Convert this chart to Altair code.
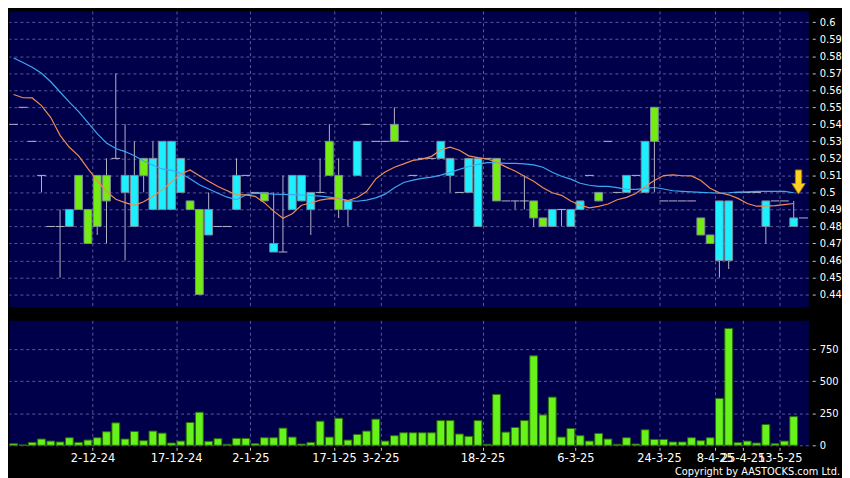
import altair as alt
import pandas as pd

# ---------------- data ----------------
opens = [0.54, 0.55, 0.53, 0.51, 0.48, 0.48, 0.48, 0.51, 0.49, 0.51,
         0.51, 0.52, 0.50, 0.48, 0.52, 0.49, 0.49, 0.49, 0.50, 0.495,
         0.49, 0.475, 0.48, 0.48, 0.49, 0.51, 0.50, 0.50, 0.465, 0.465,
         0.49, 0.495, 0.49, 0.50, 0.53, 0.51, 0.49, 0.51, 0.54, 0.53,
         0.53, 0.54, 0.53, 0.51, 0.52, 0.52, 0.52, 0.51, 0.50, 0.50,
         0.48, 0.52, 0.52, 0.495, 0.495, 0.495, 0.495, 0.485, 0.48, 0.49,
         0.48, 0.49, 0.51, 0.50, 0.53, 0.50, 0.50, 0.51, 0.50, 0.55,
         0.495, 0.495, 0.495, 0.495, 0.485, 0.475, 0.46, 0.46, 0.50, 0.50,
         0.50, 0.48, 0.495, 0.495, 0.48]
highs = [0.54, 0.55, 0.53, 0.51, 0.48, 0.49, 0.49, 0.51, 0.49, 0.51,
         0.52, 0.57, 0.54, 0.53, 0.52, 0.53, 0.53, 0.53, 0.52, 0.495,
         0.49, 0.50, 0.48, 0.48, 0.52, 0.51, 0.50, 0.50, 0.50, 0.51,
         0.51, 0.51, 0.50, 0.52, 0.54, 0.52, 0.495, 0.53, 0.54, 0.53,
         0.53, 0.55, 0.53, 0.51, 0.52, 0.52, 0.53, 0.52, 0.50, 0.52,
         0.52, 0.52, 0.52, 0.495, 0.495, 0.51, 0.495, 0.485, 0.49, 0.49,
         0.49, 0.495, 0.51, 0.50, 0.53, 0.50, 0.51, 0.51, 0.53, 0.55,
         0.495, 0.495, 0.495, 0.495, 0.485, 0.475, 0.495, 0.495, 0.50, 0.50,
         0.50, 0.495, 0.495, 0.495, 0.495]
lows = [0.54, 0.55, 0.53, 0.50, 0.48, 0.45, 0.48, 0.49, 0.47, 0.475,
        0.47, 0.52, 0.46, 0.48, 0.50, 0.49, 0.49, 0.49, 0.50, 0.49,
        0.44, 0.475, 0.48, 0.48, 0.49, 0.51, 0.50, 0.495, 0.465, 0.465,
        0.49, 0.495, 0.475, 0.50, 0.51, 0.485, 0.48, 0.51, 0.54, 0.53,
        0.53, 0.53, 0.53, 0.51, 0.52, 0.52, 0.52, 0.50, 0.50, 0.50,
        0.48, 0.52, 0.495, 0.495, 0.49, 0.49, 0.48, 0.48, 0.48, 0.48,
        0.48, 0.49, 0.51, 0.495, 0.53, 0.50, 0.50, 0.51, 0.50, 0.50,
        0.495, 0.495, 0.495, 0.495, 0.475, 0.47, 0.45, 0.455, 0.50, 0.50,
        0.50, 0.47, 0.495, 0.495, 0.48]
closes = [0.54, 0.55, 0.53, 0.51, 0.48, 0.48, 0.49, 0.49, 0.47, 0.48,
          0.495, 0.52, 0.51, 0.51, 0.51, 0.52, 0.53, 0.53, 0.52, 0.49,
          0.44, 0.49, 0.48, 0.48, 0.51, 0.51, 0.50, 0.495, 0.47, 0.465,
          0.51, 0.51, 0.50, 0.50, 0.51, 0.49, 0.495, 0.53, 0.54, 0.53,
          0.53, 0.53, 0.53, 0.51, 0.52, 0.52, 0.53, 0.52, 0.50, 0.52,
          0.52, 0.52, 0.495, 0.495, 0.495, 0.495, 0.485, 0.48, 0.49, 0.49,
          0.49, 0.495, 0.51, 0.495, 0.53, 0.50, 0.51, 0.51, 0.53, 0.53,
          0.495, 0.495, 0.495, 0.495, 0.475, 0.47, 0.495, 0.495, 0.50, 0.50,
          0.50, 0.495, 0.495, 0.495, 0.485]
volumes = [13, 3, 23, 49, 33, 26, 59, 23, 41, 59,
           106, 175, 49, 108, 36, 111, 95, 18, 33, 178,
           258, 31, 52, 8, 54, 54, 13, 59, 59, 134,
           64, 10, 23, 188, 64, 211, 41, 85, 111, 204,
           33, 75, 98, 98, 98, 98, 193, 193, 88, 70,
           193, 8, 397, 103, 139, 193, 698, 237, 376, 64,
           131, 75, 33, 93, 49, 8, 59, 10, 121, 46,
           46, 26, 26, 59, 36, 59, 366, 912, 21, 33,
           18, 162, 13, 33, 224]
ma_fast = [0.5575, 0.5556, 0.5555, 0.551, 0.544, 0.5335, 0.5265, 0.5215, 0.514, 0.507,
           0.5005, 0.496, 0.494, 0.4924, 0.4945, 0.4978, 0.5015, 0.5062, 0.5108, 0.5132,
           0.5098, 0.5065, 0.5035, 0.501, 0.4986, 0.4986, 0.4977, 0.494, 0.489, 0.4848,
           0.4875, 0.4925, 0.4938, 0.4955, 0.4963, 0.4962, 0.4952, 0.497, 0.5005, 0.508,
           0.512, 0.5148, 0.5168, 0.5188, 0.5196, 0.5212, 0.525, 0.5266, 0.5248, 0.5215,
           0.5204, 0.5196, 0.5178, 0.515, 0.5126, 0.5095, 0.5066, 0.5028, 0.4998, 0.4983,
           0.495, 0.4925, 0.4909, 0.4918, 0.4932, 0.4957, 0.4971, 0.4994, 0.5035, 0.507,
           0.5099, 0.5103, 0.5098, 0.5097, 0.507, 0.5025, 0.4998, 0.4986, 0.4965, 0.4935,
           0.4919, 0.4919, 0.4922, 0.4928, 0.4935]
ma_slow = [0.579, 0.5763, 0.5735, 0.570, 0.565, 0.559, 0.553, 0.5475, 0.541, 0.5345,
           0.529, 0.5258, 0.524, 0.5215, 0.5185, 0.516, 0.5138, 0.513, 0.5112, 0.508,
           0.5045, 0.502, 0.4995, 0.4972, 0.4958, 0.4985, 0.4996, 0.4994, 0.499, 0.4988,
           0.4987, 0.4985, 0.4982, 0.4978, 0.4972, 0.4965, 0.4952, 0.4948, 0.4955, 0.4968,
           0.499, 0.5028, 0.5058, 0.5072, 0.5083, 0.509, 0.5102, 0.5118, 0.5135, 0.5152,
           0.5165, 0.5175, 0.5175, 0.5171, 0.5171, 0.5168, 0.5162, 0.5148, 0.5118, 0.5095,
           0.5078, 0.5054, 0.5042, 0.5035, 0.5035, 0.5028, 0.5018, 0.5018, 0.5024, 0.5029,
           0.502, 0.501, 0.5006, 0.5003, 0.5, 0.4998, 0.4996, 0.4998, 0.5002, 0.5004,
           0.5006, 0.5006, 0.5006, 0.5006, 0.4998]

date_tick_pos = [8.5, 17.5, 25.5, 34.5, 39.5, 50.5, 60.5, 69.5, 75.5, 78.5, 82.5]
date_tick_labels = ["2-12-24", "17-12-24", "2-1-25", "17-1-25", "3-2-25", "18-2-25",
                    "6-3-25", "24-3-25", "8-4-25", "25-4-25", "13-5-25"]
price_ticks = [0.44, 0.45, 0.46, 0.47, 0.48, 0.49, 0.50, 0.51, 0.52, 0.53,
               0.54, 0.55, 0.56, 0.57, 0.58, 0.59, 0.60]
volume_ticks = [0, 250, 500, 750]
copyright_text = ["Copyright by AASTOCKS.com Ltd."]
arrow_pos = [84.52]
arrow_price = [0.5061]

# ---------------- styles ----------------
NAVY = "#00004A"
GRID = "#5A5A98"
CYAN = "#1CF0FF"
GREEN = "#74EC12"
BODY_STROKE = "#7C8C9C"
WICK = "#B4B4C4"
VOL_FILL = "#66F21A"
VOL_STROKE = "#2C6A08"
ORANGE = "#EE8C52"
BLUE = "#3AA8F2"
FONT = "DejaVu Sans"

n = len(closes)
df = pd.DataFrame({
    "i": list(range(n)), "open": opens, "high": highs, "low": lows,
    "close": closes, "volume": volumes, "ma_fast": ma_fast, "ma_slow": ma_slow,
})

xscale = alt.Scale(domain=[-0.5, 85.57], nice=False, zero=False)
pscale = alt.Scale(domain=[0.433, 0.6066], nice=False, zero=False)
vscale = alt.Scale(domain=[0, 975], nice=False)

x_axis_price = alt.Axis(values=date_tick_pos, labels=False, ticks=False, domain=False,
                        title=None, grid=True, gridColor=GRID, gridDash=[3, 3])
label_expr = " : ".join(
    f"abs(datum.value - {p}) < 0.01 ? '{l}'" for p, l in zip(date_tick_pos, date_tick_labels)
) + " : ''"
x_axis_vol = alt.Axis(values=date_tick_pos, labelExpr=label_expr, labelOverlap=False,
                      labelFlush=False, domain=False, title=None, grid=True,
                      gridColor=GRID, gridDash=[3, 3], tickSize=3, tickColor="#C8C8C8",
                      labelPadding=2, offset=2, labelColor="#FFFFFF", labelFont=FONT,
                      labelFontSize=11.5)
price_axis = alt.Axis(orient="right", values=price_ticks, format="~g", title=None,
                      domain=False, grid=True, gridColor=GRID, gridDash=[3, 3],
                      tickSize=3, tickColor="#C8C8C8", offset=4, labelPadding=4,
                      labelColor="#FFFFFF", labelFont=FONT, labelFontSize=10)
vol_axis = alt.Axis(orient="right", values=volume_ticks, title=None, domain=False,
                    grid=True, gridColor=GRID, gridDash=[3, 3], tickSize=3,
                    tickColor="#C8C8C8", offset=4, labelPadding=4,
                    labelColor="#FFFFFF", labelFont=FONT, labelFontSize=10)

base = alt.Chart(df)

wicks = base.mark_rule(color=WICK, strokeWidth=1).encode(
    x=alt.X("i:Q", scale=xscale, axis=x_axis_price),
    y=alt.Y("low:Q", scale=pscale, axis=price_axis),
    y2="high:Q",
)
flats = base.transform_filter("datum.open == datum.close").transform_calculate(
    xl="datum.i - 0.47", xr="datum.i + 0.47"
).mark_rule(color=WICK, strokeWidth=1).encode(
    x=alt.X("xl:Q", scale=xscale, axis=x_axis_price), x2="xr:Q",
    y=alt.Y("close:Q", scale=pscale, axis=price_axis),
)
bodies = base.transform_filter("datum.open != datum.close").transform_calculate(
    bl="datum.i - 0.42", br="datum.i + 0.42"
).mark_rect(stroke=BODY_STROKE, strokeWidth=1).encode(
    x=alt.X("bl:Q", scale=xscale, axis=x_axis_price), x2="br:Q",
    y=alt.Y("open:Q", scale=pscale, axis=price_axis), y2="close:Q",
    color=alt.condition("datum.close > datum.open", alt.value(CYAN), alt.value(GREEN)),
)
line_slow = base.mark_line(color=BLUE, strokeWidth=1.2).encode(
    x=alt.X("i:Q", scale=xscale, axis=x_axis_price),
    y=alt.Y("ma_slow:Q", scale=pscale, axis=price_axis),
)
line_fast = base.mark_line(color=ORANGE, strokeWidth=1.2).encode(
    x=alt.X("i:Q", scale=xscale, axis=x_axis_price),
    y=alt.Y("ma_fast:Q", scale=pscale, axis=price_axis),
)
last_df = pd.DataFrame({"x1": [n - 1 + 0.58], "x2": [n - 1 + 1.55], "price": [closes[-1]]})
last_mark = alt.Chart(last_df).mark_rule(color=WICK, strokeWidth=1).encode(
    x=alt.X("x1:Q", scale=xscale, axis=x_axis_price), x2="x2:Q",
    y=alt.Y("price:Q", scale=pscale, axis=price_axis),
)
arrow_df = pd.DataFrame({"i": arrow_pos, "price": arrow_price})
ARROW = "M-0.26,-1L0.26,-1L0.26,0.12L0.56,0.12L0,1L-0.56,0.12L-0.26,0.12Z"
arrow = alt.Chart(arrow_df).mark_point(
    shape=ARROW, size=590, filled=True, fill="#FFD020", stroke="#B27A00",
    strokeWidth=1, opacity=1,
).encode(
    x=alt.X("i:Q", scale=xscale, axis=x_axis_price),
    y=alt.Y("price:Q", scale=pscale, axis=price_axis),
)

price_chart = alt.layer(wicks, flats, bodies, line_slow, line_fast, last_mark, arrow).properties(
    width=806, height=298
)

vol_bars = base.transform_calculate(
    bl="datum.i - 0.42", br="datum.i + 0.42"
).mark_rect(color=VOL_FILL, stroke=VOL_STROKE, strokeWidth=1).encode(
    x=alt.X("bl:Q", scale=xscale, axis=x_axis_vol), x2="br:Q",
    y=alt.Y("volume:Q", scale=vscale, axis=vol_axis),
    y2=alt.datum(0),
)
copyright_mark = alt.Chart(pd.DataFrame({"t": copyright_text})).mark_text(
    align="right", baseline="middle", color="#FFFFFF",
    font="DejaVu Sans Condensed, DejaVu Sans", fontSize=11,
).encode(text="t:N", x=alt.value(838), y=alt.value(153))

volume_chart = alt.layer(vol_bars, copyright_mark).properties(width=806, height=126)

chart = alt.vconcat(price_chart, volume_chart, spacing=12).properties(
    padding=0, background="#000000"
).configure_view(fill=NAVY, stroke="transparent")

chart.save("out.html", embed_options={"renderer": "svg", "actions": False})
